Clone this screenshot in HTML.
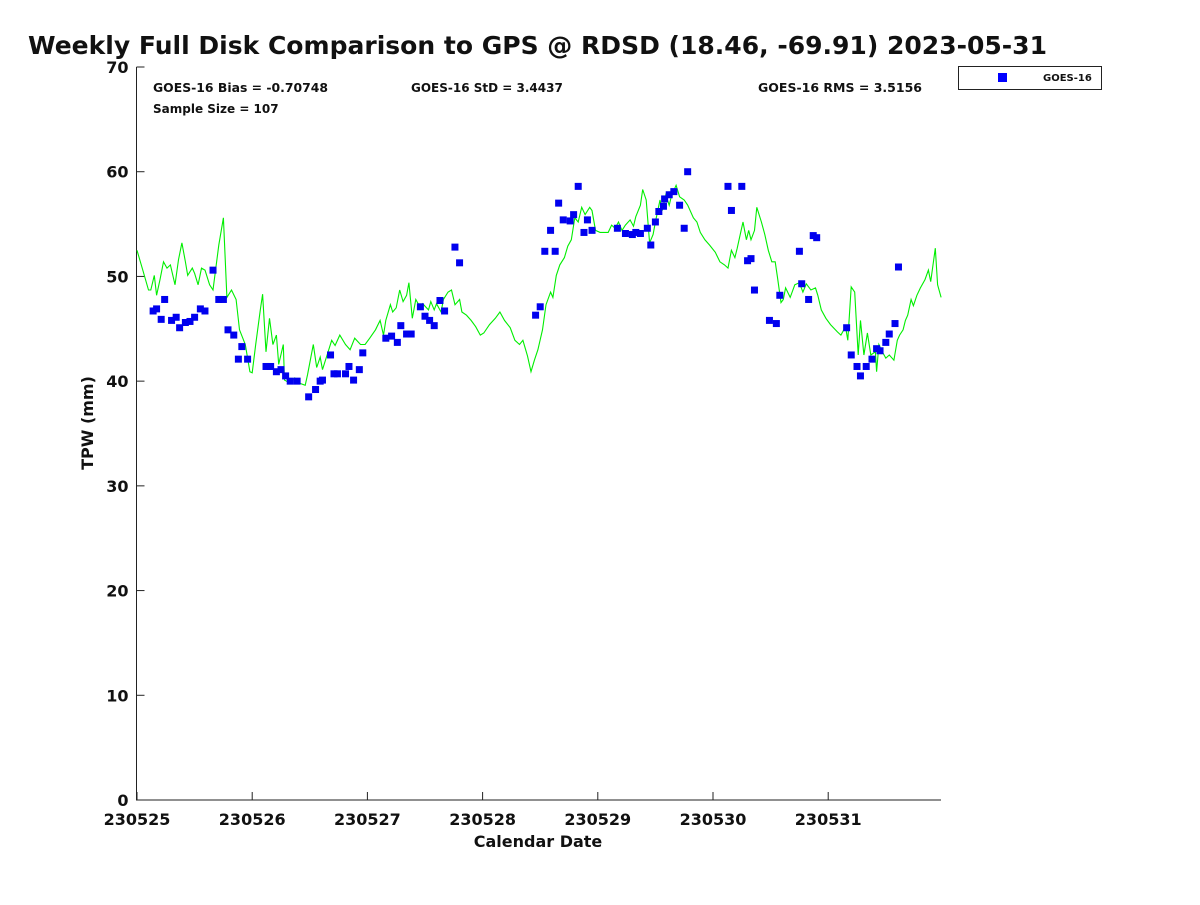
<!DOCTYPE html>
<html><head><meta charset="utf-8"><style>
body{margin:0;background:#fff;font-family:"Liberation Sans","DejaVu Sans",sans-serif}
svg text{font-family:"DejaVu Sans","Liberation Sans",sans-serif;font-weight:bold;fill:#111}
</style></head><body>
<svg id="chart" width="1200" height="900" viewBox="0 0 1200 900" xmlns="http://www.w3.org/2000/svg">
<rect width="1200" height="900" fill="#fff"/>
<text x="28" y="54" font-size="24.5" textLength="1019" lengthAdjust="spacingAndGlyphs">Weekly Full Disk Comparison to GPS @ RDSD (18.46, -69.91) 2023-05-31</text>
<text x="153" y="92" font-size="12" textLength="175" lengthAdjust="spacingAndGlyphs">GOES-16 Bias = -0.70748</text>
<text x="411" y="92" font-size="12">GOES-16 StD = 3.4437</text>
<text x="758" y="92" font-size="12" textLength="164" lengthAdjust="spacingAndGlyphs">GOES-16 RMS = 3.5156</text>
<text x="153" y="113" font-size="12">Sample Size = 107</text>
<g>
<rect x="958.5" y="66.5" width="143" height="23" fill="#fff" stroke="#222"/>
<rect x="998" y="73" width="9" height="9" fill="#0000ff"/>
<text x="1043" y="81" font-size="10">GOES-16</text>
</g>
<text x="538" y="847" font-size="16" text-anchor="middle">Calendar Date</text>
<text transform="translate(93,423) rotate(-90)" font-size="16" text-anchor="middle">TPW (mm)</text>
<g id="axes"></g>
<g id="series"></g>
</svg>
<script>
const xTickLabels=["230525","230526","230527","230528","230529","230530","230531"];
const yTicks=[0,10,20,30,40,50,60,70];
const lineDays=[0,.05,.10,.12,.15,.17,.20,.23,.26,.29,.33,.36,.39,.42,.44,.48,.50,.53,.56,.59,.63,.66,.71,.75,.78,.82,.86,.89,.94,.98,1.00,1.03,1.07,1.09,1.12,1.15,1.18,1.21,1.23,1.27,1.28,1.33,1.37,1.41,1.46,1.48,1.53,1.56,1.59,1.61,1.65,1.69,1.72,1.76,1.81,1.85,1.89,1.94,1.98,2.02,2.07,2.11,2.14,2.16,2.20,2.22,2.25,2.28,2.31,2.34,2.36,2.39,2.42,2.46,2.48,2.53,2.55,2.58,2.60,2.64,2.66,2.70,2.73,2.76,2.80,2.82,2.86,2.90,2.94,2.98,3.01,3.06,3.11,3.15,3.19,3.24,3.28,3.32,3.35,3.39,3.42,3.45,3.48,3.52,3.55,3.59,3.61,3.64,3.67,3.71,3.74,3.77,3.80,3.83,3.86,3.89,3.93,3.95,3.98,4.02,4.09,4.12,4.15,4.18,4.21,4.24,4.28,4.31,4.33,4.37,4.39,4.42,4.45,4.48,4.50,4.54,4.56,4.59,4.62,4.64,4.68,4.71,4.75,4.78,4.83,4.86,4.89,4.93,4.97,5.02,5.06,5.10,5.13,5.16,5.19,5.21,5.23,5.26,5.29,5.31,5.33,5.36,5.38,5.42,5.45,5.48,5.51,5.54,5.56,5.59,5.61,5.63,5.67,5.71,5.75,5.78,5.81,5.85,5.89,5.91,5.94,5.98,6.02,6.08,6.11,6.15,6.17,6.20,6.23,6.26,6.28,6.31,6.34,6.37,6.41,6.42,6.44,6.47,6.50,6.53,6.57,6.60,6.62,6.65,6.67,6.69,6.72,6.74,6.77,6.80,6.84,6.87,6.89,6.93,6.95,6.98];
const lineVals=[52.5,50.6,48.7,48.7,50.1,48.2,49.7,51.4,50.8,51.1,49.2,51.6,53.2,51.4,50.1,50.8,50.3,49.2,50.8,50.6,49.2,48.7,53.0,55.6,48.0,48.7,47.8,44.9,43.5,40.9,40.8,43.5,46.8,48.3,42.8,46.0,43.5,44.4,41.6,43.5,40.1,39.8,40.3,39.8,39.6,40.6,43.5,41.3,42.3,41.1,42.5,43.9,43.4,44.4,43.5,43.0,44.1,43.5,43.5,44.1,44.9,45.8,44.4,45.8,47.3,46.6,47.0,48.7,47.6,48.2,49.4,46.0,47.8,47.0,47.4,46.8,47.6,46.8,47.4,46.6,47.8,48.5,48.7,47.3,47.8,46.6,46.3,45.8,45.2,44.4,44.6,45.4,46.0,46.6,45.8,45.1,43.9,43.5,43.9,42.4,40.9,42.0,43.0,44.9,47.3,48.5,48.0,50.1,51.1,51.8,52.9,53.5,55.6,55.2,56.6,55.9,56.6,56.3,54.4,54.2,54.2,54.9,54.6,55.2,54.4,54.9,55.4,54.8,55.7,56.8,58.3,57.3,53.2,54.0,55.2,57.3,56.3,57.8,56.8,57.7,58.7,57.6,57.3,56.8,55.6,55.2,54.2,53.5,53.0,52.3,51.4,51.1,50.8,52.5,51.8,52.7,53.7,55.2,53.5,54.4,53.5,54.4,56.6,55.2,54.0,52.5,51.4,51.4,49.9,47.5,47.8,48.9,48.0,49.2,49.4,48.5,49.3,48.7,48.9,48.2,46.8,46.0,45.4,44.7,44.4,45.2,43.9,49.0,48.5,42.5,45.8,42.5,44.6,42.5,42.8,40.9,43.5,42.8,42.2,42.5,42.0,43.9,44.4,44.9,45.8,46.3,47.8,47.2,48.2,48.9,49.7,50.6,49.5,52.7,49.2,48.0];
const goesDays=[0.14,0.17,0.21,0.24,0.30,0.34,0.37,0.42,0.46,0.50,0.55,0.59,0.66,0.71,0.75,0.79,0.84,0.88,0.91,0.96,1.12,1.16,1.21,1.25,1.29,1.33,1.39,1.49,1.55,1.59,1.61,1.68,1.71,1.74,1.81,1.84,1.88,1.93,1.96,2.16,2.21,2.26,2.29,2.34,2.38,2.46,2.50,2.54,2.58,2.63,2.67,2.76,2.80,3.46,3.50,3.54,3.59,3.63,3.66,3.70,3.76,3.79,3.83,3.88,3.91,3.95,4.17,4.24,4.30,4.33,4.37,4.43,4.46,4.50,4.53,4.57,4.58,4.62,4.66,4.71,4.75,4.78,5.13,5.16,5.25,5.30,5.33,5.36,5.49,5.55,5.58,5.75,5.77,5.83,5.87,5.90,6.16,6.20,6.25,6.28,6.33,6.38,6.42,6.45,6.50,6.53,6.58,6.61];
const goesVals=[46.7,46.9,45.9,47.8,45.8,46.1,45.1,45.6,45.7,46.1,46.9,46.7,50.6,47.8,47.8,44.9,44.4,42.1,43.3,42.1,41.4,41.4,40.9,41.1,40.5,40.0,40.0,38.5,39.2,40.0,40.1,42.5,40.7,40.7,40.7,41.4,40.1,41.1,42.7,44.1,44.3,43.7,45.3,44.5,44.5,47.1,46.2,45.8,45.3,47.7,46.7,52.8,51.3,46.3,47.1,52.4,54.4,52.4,57.0,55.4,55.3,55.9,58.6,54.2,55.4,54.4,54.6,54.1,54.0,54.2,54.1,54.6,53.0,55.2,56.2,56.7,57.4,57.8,58.1,56.8,54.6,60.0,58.6,56.3,58.6,51.5,51.7,48.7,45.8,45.5,48.2,52.4,49.3,47.8,53.9,53.7,45.1,42.5,41.4,40.5,41.4,42.1,43.1,42.9,43.7,44.5,45.5,50.9];

const NS="http://www.w3.org/2000/svg";
const L=136.5,R=941,T=67,B=800,DAYPX=115.2;
const xs=d=>137+d*DAYPX;
const ys=v=>B-(v/70)*(B-T);
function mk(tag,attrs,parent){const e=document.createElementNS(NS,tag);for(const k in attrs)e.setAttribute(k,attrs[k]);parent.appendChild(e);return e;}
const axes=document.getElementById('axes'),series=document.getElementById('series');
const frame=mk('path',{d:`M${L},${T}V${B}H${R}`,fill:'none',stroke:'#222','stroke-width':1},axes);


yTicks.forEach(v=>{
  const y=ys(v);
  const t=mk('line',{x1:L,x2:L+8,y1:y,y2:y,stroke:'#222'},axes);
  
  
  const tx=mk('text',{x:L-8,y:y+6,'font-size':16,'text-anchor':'end'},axes);tx.textContent=v;
  
  
});
xTickLabels.forEach((lab,i)=>{
  const x=xs(i);
  const t=mk('line',{x1:x,x2:x,y1:B,y2:B-8,stroke:'#222'},axes);
  
  
  const tx=mk('text',{x:x,y:B+25,'font-size':16,'text-anchor':'middle'},axes);tx.textContent=lab;
  
  
});
const pts=lineDays.map((d,i)=>xs(d).toFixed(1)+','+ys(lineVals[i]).toFixed(1)).join(' ');
const gl=mk('polyline',{points:pts,fill:'none',stroke:'#00ee00','stroke-width':1.1},series);


goesDays.forEach((d,i)=>{
  const r=mk('rect',{x:xs(d)-3.5,y:ys(goesVals[i])-3.5,width:7,height:7,fill:'#0000ee'},series);
  
  
});
</script>
</body></html>
